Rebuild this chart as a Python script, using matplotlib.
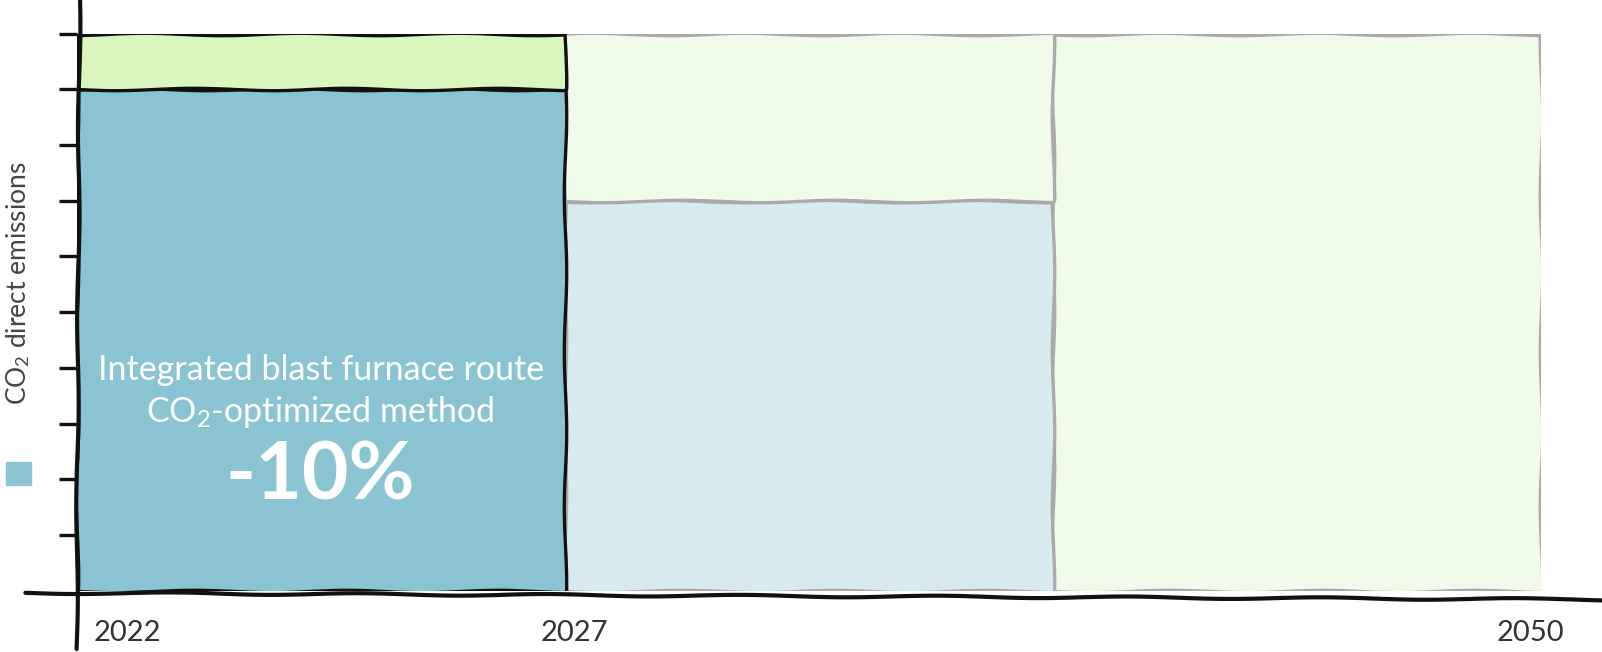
import matplotlib.pyplot as plt
from matplotlib.patches import Rectangle
from matplotlib.transforms import blended_transform_factory

years = ["2022", "2027", "2050"]
year_pos = [0.105, 1.02, 2.98]
direct = [90, 70, 0]
rest = [10, 30, 100]
low_colors = ["#8AC4D3", "#D7EAF0", "#F0FAE8"]
top_colors = ["#D8F6BE", "#F0FAE8", "#F0FAE8"]
edges = ["#111111", "#AAAAAA", "#AAAAAA"]
yticks = [10, 20, 30, 40, 50, 60, 70, 80, 90, 100]

plt.rcParams['font.family'] = ['Lato', 'DejaVu Sans']
plt.rcParams['mathtext.fontset'] = 'custom'
plt.rcParams['mathtext.rm'] = 'Lato'
plt.rcParams['mathtext.it'] = 'Lato:italic'
plt.rcParams['mathtext.bf'] = 'Lato:bold'

W, H = 1602, 652
fig = plt.figure(figsize=(W / 100, H / 100), dpi=100)
ax = fig.add_axes([76.6/W, 61.4/H, 1464/W, 557/H])

x = list(range(len(years)))
# grey columns first, black one last so its outline sits on top
for i in [2, 1, 0]:
    b1 = ax.bar(x[i], direct[i], width=1, align='edge', color=low_colors[i],
                edgecolor=edges[i], linewidth=2.4)
    b2 = ax.bar(x[i], rest[i], bottom=direct[i], width=1, align='edge',
                color=top_colors[i], edgecolor=edges[i], linewidth=2.4)
    for p in list(b1) + list(b2):
        p.set_sketch_params(1.2, 160, 1.5)

ax.set_xlim(0, 3)
ax.set_ylim(0, 100)
for s in ax.spines.values():
    s.set_visible(False)
ax.set_xticks([])
ax.set_yticks(yticks)
ax.set_yticklabels([])
ax.tick_params(axis='y', length=13, width=2.4, color='#111111', direction='out')

# hand drawn axes
xl, = ax.plot([-0.035, 1.042], [-0.004, -0.016], transform=ax.transAxes,
              color='#111111', lw=3, clip_on=False, solid_capstyle='round')
yl, = ax.plot([0.0, 0.002], [-0.105, 1.06], transform=ax.transAxes,
              color='#111111', lw=3, clip_on=False, solid_capstyle='round')
for l in (xl, yl):
    l.set_sketch_params(1.0, 200, 1.5)

tr = blended_transform_factory(ax.transData, ax.transAxes)
for p, lab in zip(year_pos, years):
    ax.text(p, -0.077, lab, transform=tr, ha='center', va='center',
            fontsize=21, color='#333333')

ax.text(0.5, 39.6, "Integrated blast furnace route", ha='center', va='center',
        fontsize=24.5, color='white')
ax.text(0.5, 32.1, "CO$_2$-optimized method", ha='center', va='center',
        fontsize=24.5, color='white')
ax.text(0.5, 20.5, "-10%", ha='center', va='center', fontsize=58,
        fontweight='bold', color='white')

fig.text(18.4/W, 1 - 283/H, "CO$_2$ direct emissions", rotation=90,
         ha='center', va='center', fontsize=19, color='#444444')
fig.add_artist(Rectangle((6.1/W, 1 - 485/H), 24.5/W, 23.5/H,
                         transform=fig.transFigure, color=low_colors[0]))

fig.savefig("out.png", dpi=100)
